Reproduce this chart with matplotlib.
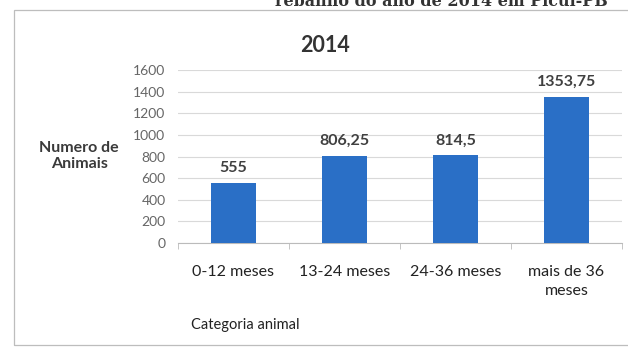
import numpy as np
import matplotlib.pyplot as plt
from matplotlib.patches import Rectangle

plt.rcParams['font.family'] = ['Lato', 'DejaVu Sans']

categorias = ['0-12 meses', '13-24 meses', '24-36 meses', 'mais de 36\nmeses']
valores = [555, 806.25, 814.5, 1353.75]
rotulos = ['555', '806,25', '814,5', '1353,75']
yticks = [0, 200, 400, 600, 800, 1000, 1200, 1400, 1600]

fig = plt.figure(figsize=(6.28, 3.49), dpi=100)
ax = fig.add_axes([0.2834, 0.3037, 0.707, 0.4957])

x = np.arange(len(categorias))
ax.bar(x, valores, width=0.41, color='#2a6fc6', zorder=3)
for xi, v, r in zip(x, valores, rotulos):
    ax.text(xi, v + 70, r, ha='center', va='bottom', fontsize=11.5,
            fontweight='bold', color='#404040')

ax.set_xlim(-0.5, 3.5)
ax.set_ylim(0, 1600)
ax.set_yticks(yticks)
ax.yaxis.grid(True, color='#d9d9d9', linewidth=0.8, zorder=0)
ax.tick_params(axis='y', length=0, labelsize=10, labelcolor='#666666', pad=9)
ax.set_xticks(x)
ax.set_xticklabels(categorias, fontsize=11.5, color='#222222', linespacing=1.4)
ax.set_xticks(np.arange(-0.5, 4, 1), minor=True)
ax.tick_params(axis='x', which='major', length=0, pad=16)
ax.tick_params(axis='x', which='minor', length=4, color='#bbbbbb', direction='out')
for s in ['top', 'right', 'left']:
    ax.spines[s].set_visible(False)
ax.spines['bottom'].set_color('#bbbbbb')

fig.text(0.518, 0.87, '2014', ha='center', va='center', fontsize=15.5,
         fontweight='bold', color='#333333')
fig.text(0.126, 0.553, 'Numero de\nAnimais', ha='center', va='center',
         fontsize=11.5, fontweight='bold', color='#3a3a3a', linespacing=1.25)
fig.text(0.39, 0.068, 'Categoria animal', ha='center', va='center',
         fontsize=10.5, color='#222222')

# linha de legenda cortada no topo da figura
fig.text(0.968, 0.983, 'rebanho do ano de 2014 em Picuí-PB', ha='right', va='baseline',
         fontsize=11.5, fontweight='bold', family=['DejaVu Serif'], color='#333333')

fig.patches.append(Rectangle((0.022, 0.012), 1.0, 0.96, transform=fig.transFigure,
                             fill=False, edgecolor='#bdbdbd', linewidth=0.9))

fig.savefig('out.png', dpi=100)
